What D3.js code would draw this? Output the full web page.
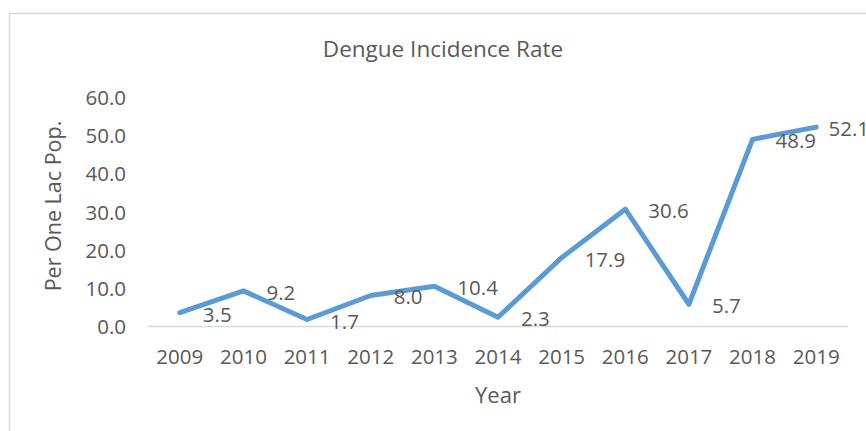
<!DOCTYPE html>
<html>
<head>
<meta charset="utf-8">
<script src="https://cdn.jsdelivr.net/npm/d3@7"></script>
<style>
  body { margin: 0; background: #fff; }
  text { font-family: "Open Sans", "Noto Sans", sans-serif; fill: #595959; }
</style>
</head>
<body>
<svg width="866" height="431"></svg>
<script>
// data
var years = ['2009','2010','2011','2012','2013','2014','2015','2016','2017','2018','2019']
var rates = [3.5, 9.2, 1.7, 8.0, 10.4, 2.3, 17.9, 30.6, 5.7, 48.9, 52.1]
var yTicks = [0, 10, 20, 30, 40, 50, 60]

var data = years.map(function(y, i) { return {year: y, rate: rates[i]} })

var svg = d3.select('svg')

// chart frame (right and bottom edges fall outside the picture)
svg.append('rect')
  .attr('x', 9.5).attr('y', 13.5)
  .attr('width', 866).attr('height', 440)
  .attr('fill', 'none')
  .attr('stroke', '#d9d9d9')
  .attr('stroke-width', 1.5)

var plotLeft = 148, plotRight = 848, plotTop = 97, plotBottom = 326

var x = d3.scaleBand()
  .domain(years)
  .range([plotLeft, plotRight])

var y = d3.scaleLinear()
  .domain([0, 60])
  .range([plotBottom, plotTop])

var cx = function(d) { return x(d.year) + x.bandwidth() / 2 }

// title
svg.append('text')
  .attr('x', 443).attr('y', 48)
  .attr('text-anchor', 'middle')
  .attr('dominant-baseline', 'central')
  .style('font-size', '22.5px')
  .text('Dengue Incidence Rate')

// y axis labels
svg.append('g').selectAll('text')
  .data(yTicks).enter().append('text')
  .attr('x', 126)
  .attr('y', function(d) { return y(d) })
  .attr('text-anchor', 'end')
  .attr('dominant-baseline', 'central')
  .style('font-size', '20.5px')
  .text(function(d) { return d3.format('.1f')(d) })

// x axis baseline
svg.append('line')
  .attr('x1', plotLeft).attr('x2', plotRight)
  .attr('y1', plotBottom + 0.5).attr('y2', plotBottom + 0.5)
  .attr('stroke', '#d9d9d9')
  .attr('stroke-width', 1.5)

// x axis labels
svg.append('g').selectAll('text')
  .data(years).enter().append('text')
  .attr('x', function(d) { return x(d) + x.bandwidth() / 2 })
  .attr('y', 356)
  .attr('text-anchor', 'middle')
  .attr('dominant-baseline', 'central')
  .style('font-size', '20.5px')
  .text(function(d) { return d })

// axis titles
svg.append('text')
  .attr('x', 498).attr('y', 394)
  .attr('text-anchor', 'middle')
  .attr('dominant-baseline', 'central')
  .style('font-size', '22px')
  .text('Year')

svg.append('text')
  .attr('transform', 'translate(52,206) rotate(-90)')
  .attr('text-anchor', 'middle')
  .attr('dominant-baseline', 'central')
  .style('font-size', '21.5px')
  .text('Per One Lac Pop.')

// the line
var line = d3.line()
  .x(cx)
  .y(function(d) { return y(d.rate) })

svg.append('path')
  .datum(data)
  .attr('d', line)
  .attr('fill', 'none')
  .attr('stroke', '#5b9bd5')
  .attr('stroke-width', 5)
  .attr('stroke-linejoin', 'round')
  .attr('stroke-linecap', 'round')

// data labels to the right of each point, kept inside the frame
var frameRight = 872
svg.append('g').selectAll('text')
  .data(data).enter().append('text')
  .attr('y', function(d) { return y(d.rate) + 1 })
  .attr('dominant-baseline', 'central')
  .style('font-size', '20.5px')
  .text(function(d) { return d3.format('.1f')(d.rate) })
  .attr('x', function(d) {
    var w = this.getComputedTextLength()
    return Math.min(cx(d) + 23, frameRight - w - 3)
  })
</script>
</body>
</html>
